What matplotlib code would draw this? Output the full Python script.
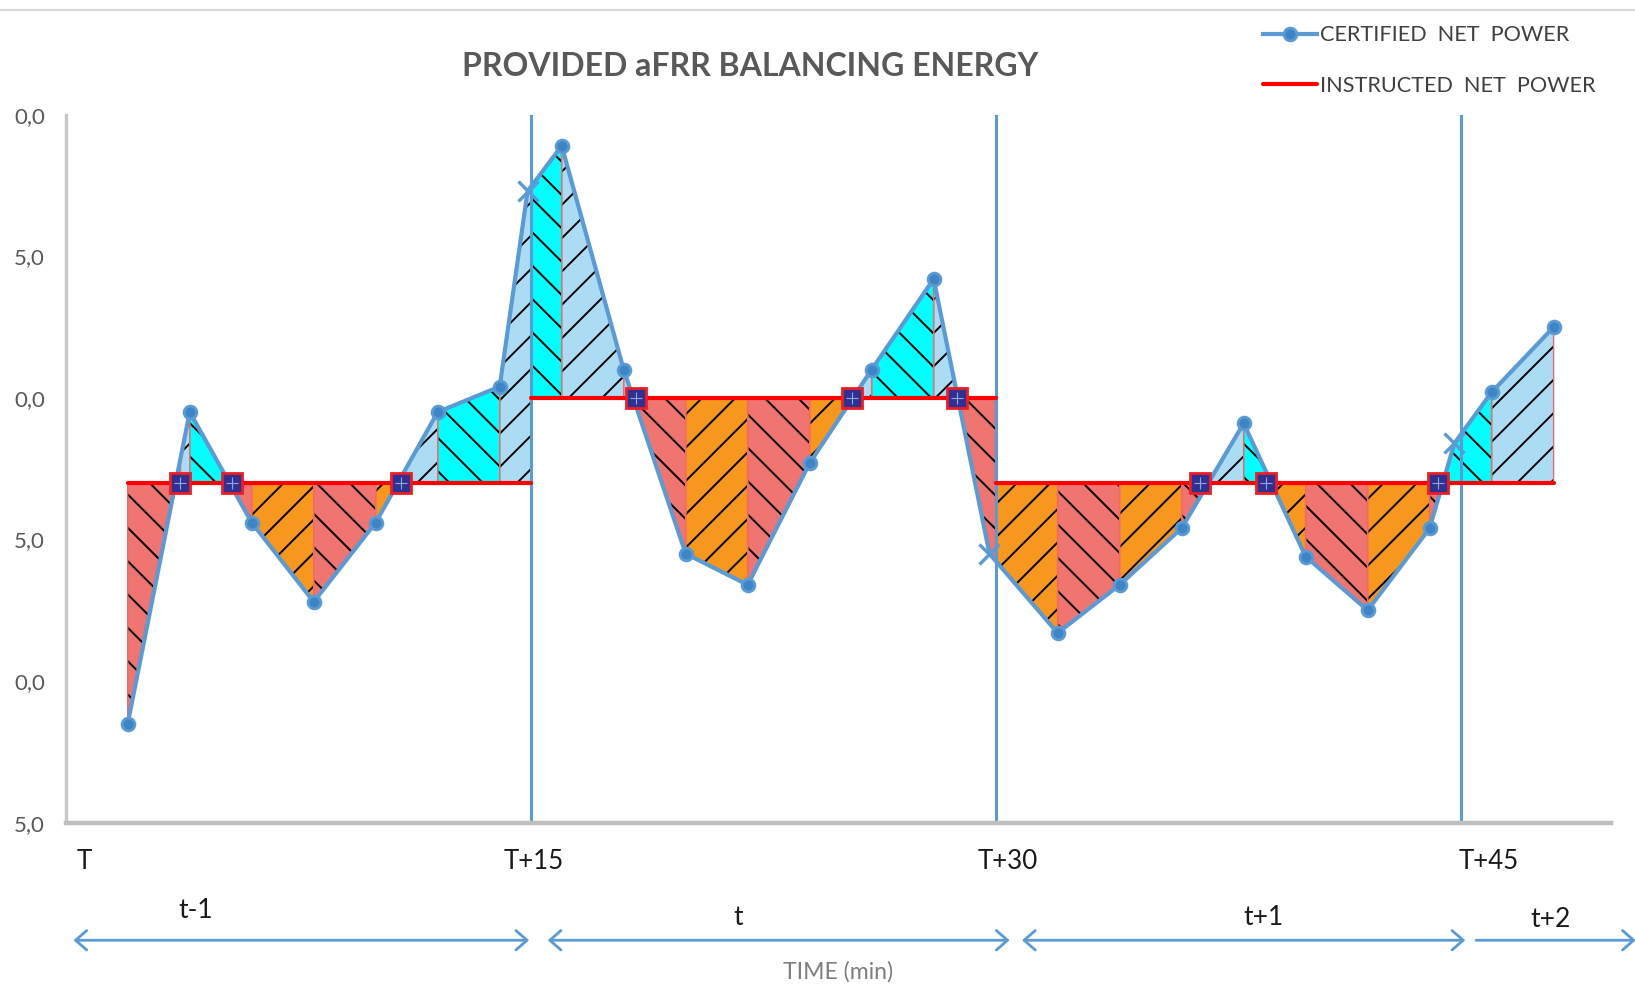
import numpy as np
import matplotlib
matplotlib.use("Agg")
import matplotlib.pyplot as plt
from matplotlib.lines import Line2D

plt.rcParams['font.family'] = ['Lato', 'DejaVu Sans']
plt.rcParams['hatch.linewidth'] = 0.7

# certified net power: vertices of the blue line (minutes, value)
cert_x = [2, 4, 6, 8, 10, 12, 14, 14.9, 16, 18, 20, 22, 24, 26, 28, 29.8,
          32, 34, 36, 38, 40, 42, 44, 44.8, 46, 48]
cert_y = [-11.5, -0.5, -4.4, -7.2, -4.4, -0.5, 0.4, 7.3, 8.9, 1.0, -5.5, -6.6,
          -2.3, 1.0, 4.2, -5.5, -8.3, -6.6, -4.6, -0.9, -5.6, -7.5, -4.6, -1.6,
          0.2, 2.5]
cert_mark = ['o'] * 7 + ['x'] + ['o'] * 7 + ['x'] + ['o'] * 7 + ['x'] + ['o'] * 2

# instructed net power, one level per quarter hour
instr_start = [2, 15, 30]
instr_end = [15, 30, 48]
instr_level = [-3, 0, -3]

# where the certified curve meets the instructed level (square markers)
cross_x = [3.7, 5.35, 10.83, 18.4, 25.36, 28.74, 36.6, 38.71, 44.27]

# fill of each piece between the curves, left to right
piece_colors = ['R', 'LB', 'C', 'R', 'O', 'R', 'O', 'LB', 'C', 'LB', 'C', 'LB',
                'LB', 'R', 'O', 'R', 'O', 'LB', 'C', 'LB', 'R', 'O', 'R', 'O',
                'R', 'LB', 'C', 'O', 'R', 'O', 'R', 'C', 'LB']
fills = {'R': ('#f07470', '\\\\'), 'O': ('#f7971e', '//'),
         'C': ('#00ffff', '\\\\'), 'LB': ('#acdcf4', '//')}

quarter_lines = [15, 30, 45]
time_labels = ['T', 'T+15', 'T+30', 'T+45']
time_label_x = [0.6, 15.1, 30.4, 45.9]
period_labels = ['t-1', 't', 't+1', 't+2']
period_label_x = [4.2, 21.7, 38.65, 47.9]
period_label_y = [-0.124, -0.134, -0.134, -0.137]
period_arrow_x0 = [0.25, 15.55, 30.85, 45.5]
period_arrow_x1 = [14.95, 30.45, 45.15, 50.65]

y_ticks = [10, 5, 0, -5, -10, -15]
y_tick_labels = ['0,0', '5,0', '0,0', '5,0', '0,0', '5,0']


def base(x):
    for s, e, l in zip(instr_start, instr_end, instr_level):
        if s <= x <= e:
            return l
    return instr_level[-1]


fig = plt.figure(figsize=(8.175, 5.04), dpi=200)
ax = fig.add_axes([0.0402, 0.1838, 0.9451, 0.7024])

blue = '#5b9bd5'

# coloured, hatched pieces
bounds = sorted(set(list(range(2, 49, 2)) + [15] + cross_x))
for (a, b), key in zip(zip(bounds[:-1], bounds[1:]), piece_colors):
    xs = [a] + [x for x in cert_x if a < x < b] + [b]
    ys = np.interp(xs, cert_x, cert_y)
    lvl = base((a + b) / 2)
    col, hatch = fills[key]
    ax.fill_between(xs, ys, lvl, facecolor=col, edgecolor='black', hatch=hatch,
                    linewidth=0, zorder=1)
    ax.fill_between(xs, ys, lvl, facecolor='none', edgecolor='#f06a6a',
                    linewidth=0.5, zorder=1.5)

for q in quarter_lines:
    ax.axvline(q, color=blue, lw=1.1, zorder=2)

# instructed line
ix, iy = [], []
for s, e, l in zip(instr_start, instr_end, instr_level):
    ix += [s, e, np.nan]
    iy += [l, l, np.nan]
inst_line, = ax.plot(ix, iy, color='#ff0000', lw=1.5, zorder=3,
                     solid_capstyle='round')

# certified line
dot_idx = [i for i, m in enumerate(cert_mark) if m == 'o']
cert_line, = ax.plot(cert_x, cert_y, color=blue, lw=1.5, marker='o', ms=4.6,
                     mfc='#3d85c6', mec=blue, markevery=dot_idx, zorder=4,
                     solid_joinstyle='round')
xx = [x for x, m in zip(cert_x, cert_mark) if m == 'x']
xy = [y for y, m in zip(cert_y, cert_mark) if m == 'x']
ax.plot(xx, xy, 'x', color=blue, ms=7, mew=1.2, zorder=4)

# crossing squares
ax.plot(cross_x, [base(x) for x in cross_x], 's', ms=7, mfc='#2e3192',
        mec='#ee1c25', mew=1.0, zorder=6)
ax.plot(cross_x, [base(x) for x in cross_x], '+', ms=4, color='#8fa8e0',
        mew=0.4, zorder=7)

ax.set_xlim(0, 49.85)
ax.set_ylim(-15, 10)
ax.set_yticks(y_ticks)
ax.set_yticklabels(y_tick_labels)
ax.tick_params(axis='y', length=0, pad=7.5, labelsize=8, labelcolor='#595959')
ax.set_xticks(time_label_x)
ax.set_xticklabels(time_labels)
ax.tick_params(axis='x', length=0, pad=9.5, labelsize=9.3, labelcolor='#1a1a1a')
for sp in ['top', 'right']:
    ax.spines[sp].set_visible(False)
ax.spines['left'].set_color('#c8c8c8')
ax.spines['left'].set_linewidth(1.2)
ax.spines['bottom'].set_color('#bfbfbf')
ax.spines['bottom'].set_linewidth(1.6)

tr = ax.get_xaxis_transform()
for lab, x, y in zip(period_labels, period_label_x, period_label_y):
    ax.text(x, y, lab, transform=tr, ha='center', va='center',
            fontsize=9.5, color='#1a1a1a')
for x0, x1, lab in zip(period_arrow_x0, period_arrow_x1, period_labels):
    style = '->' if lab == 't+2' else '<->'
    ax.annotate('', xy=(x1, -0.166), xytext=(x0, -0.166), xycoords=tr,
                textcoords=tr, annotation_clip=False,
                arrowprops=dict(arrowstyle=style + ',head_length=0.4,head_width=0.35',
                                color=blue, lw=1.0, shrinkA=0, shrinkB=0))
ax.text(24.9, -0.211, 'TIME (min)', transform=tr, ha='center', va='center',
        fontsize=8.3, color='#7f7f7f')

fig.text(0.459, 0.934, 'PROVIDED aFRR BALANCING ENERGY', ha='center',
         va='center', fontsize=11.5, fontweight='bold', color='#595959')

fig.legend([cert_line, inst_line],
           ['CERTIFIED  NET  POWER', 'INSTRUCTED  NET  POWER'],
           loc='upper left', bbox_to_anchor=(0.7605, 0.9942), frameon=False,
           fontsize=7.8, handlelength=2.48, handletextpad=0.15,
           labelspacing=1.4, numpoints=1, labelcolor='#404040')

fig.add_artist(Line2D([0, 1], [0.9897, 0.9897], color='#d9d9d9', lw=0.8))

fig.savefig('out.png', dpi=200)
